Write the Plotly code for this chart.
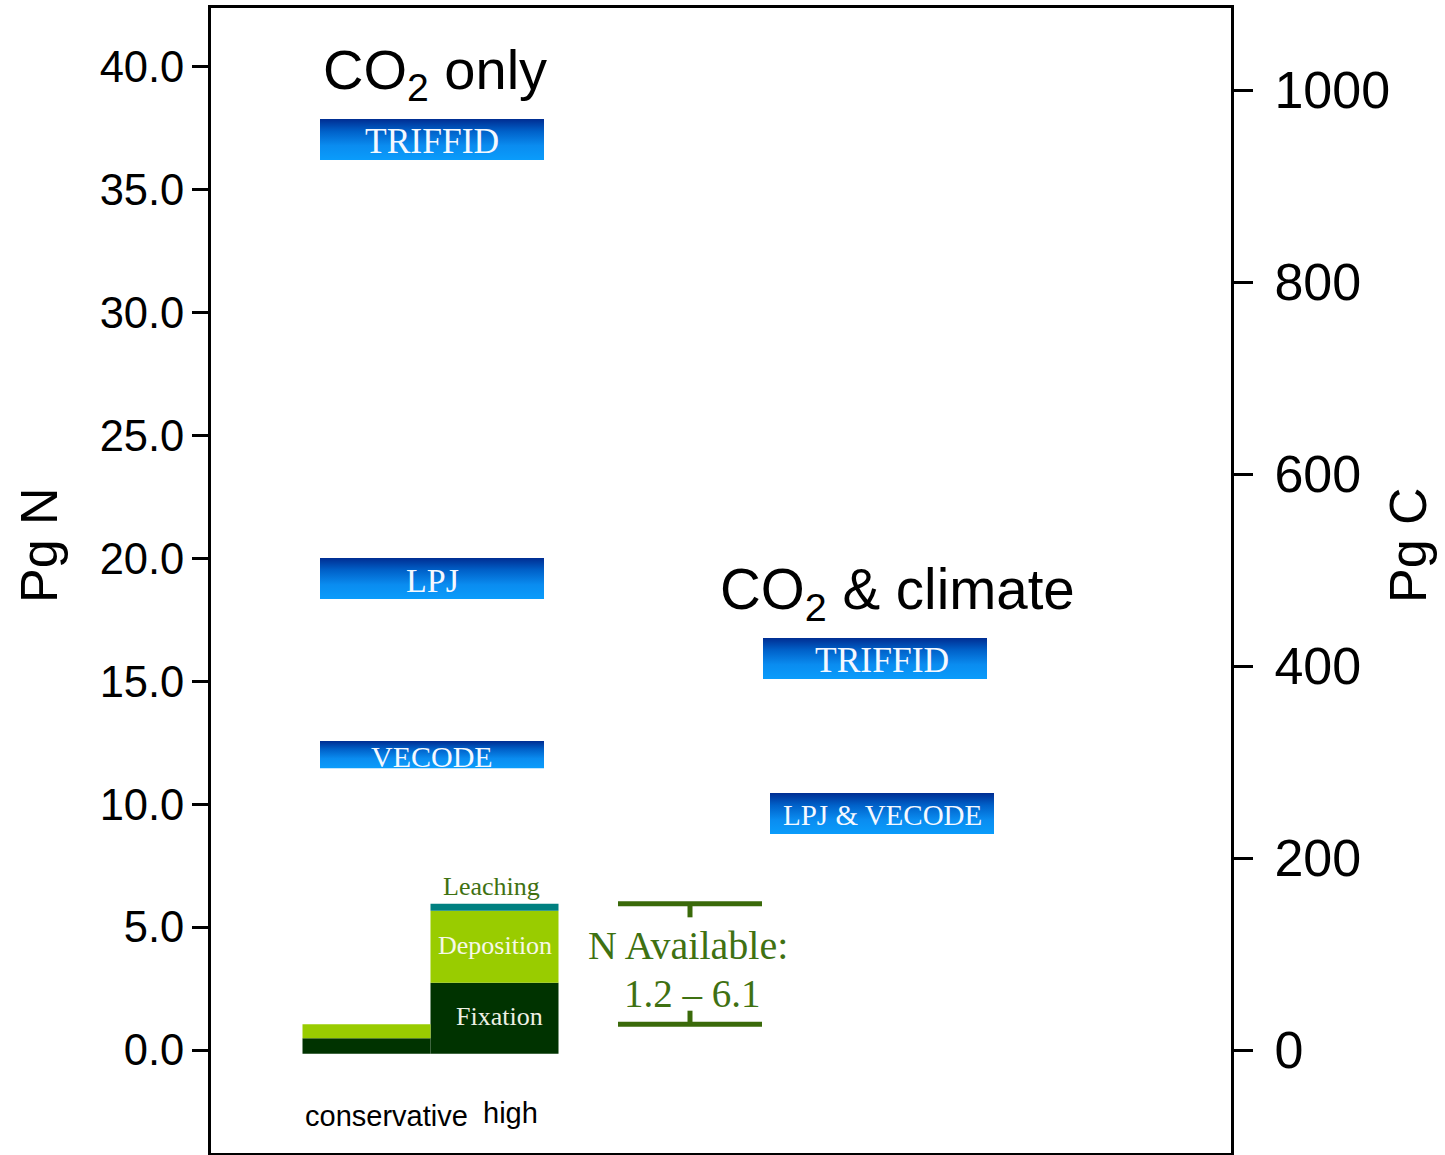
import plotly.graph_objects as go

# ---- data -------------------------------------------------------------
N_TICKS = [0, 5, 10, 15, 20, 25, 30, 35, 40]
C_TICKS = [0, 200, 400, 600, 800, 1000]
C_PER_N = 25.6  # Pg C supported per Pg N (right axis conversion)

# Nitrogen requirement ranges (Pg N), CO2-only runs
co2_models = ["TRIFFID", "LPJ", "VECODE"]
co2_low = [36.22, 18.35, 11.47]
co2_high = [37.88, 20.02, 12.57]

# Nitrogen requirement ranges (Pg N), CO2 & climate runs
clim_models = ["TRIFFID", "LPJ & VECODE"]
clim_low = [15.10, 8.79]
clim_high = [16.77, 10.46]

# Nitrogen supply scenarios (Pg N)
scenarios = ["conservative", "high"]
fixation = [0.63, 2.89]
deposition = [0.57, 2.93]
leaching = [0.0, 0.28]
n_available = [1.2, 6.1]
supply_base = -0.15

# ---- layout constants -------------------------------------------------
Y_RANGE = [-4.19, 42.40]
X_RANGE = [0, 1020]
SANS = "Liberation Sans, Arial, sans-serif"
SERIF = "Liberation Serif, Times New Roman, serif"
BLUE_SCALE = [[0, "#0a9cfb"], [0.35, "#0a8cf0"], [0.7, "#0061c9"], [1, "#002d92"]]
GREEN_TXT = "#3f7112"

fig = go.Figure()
annotations = []


def add_box(x0, x1, lo, hi, label, size, dx=0):
    fig.add_trace(go.Scatter(
        x=[x0, x1, x1, x0, x0], y=[lo, lo, hi, hi, lo],
        mode="lines", fill="toself", line=dict(width=0),
        fillgradient=dict(type="vertical", colorscale=BLUE_SCALE, start=lo, stop=hi),
        hoverinfo="skip", showlegend=False,
    ))
    annotations.append(dict(
        x=(x0 + x1) / 2 + dx, y=(lo + hi) / 2 - 0.08, xref="x", yref="y", text=label,
        showarrow=False, xanchor="center", yanchor="middle",
        font=dict(family=SERIF, size=size, color="#f4f8ff"),
    ))


co2_sizes = [35.5, 34, 30]
for name, lo, hi, sz in zip(co2_models, co2_low, co2_high, co2_sizes):
    add_box(109, 333, lo, hi, name, sz)

clim_x = [(552, 776), (559, 783)]
clim_sizes = [35.5, 29]
clim_dx = [7, 0]
for name, lo, hi, (x0, x1), sz, dx in zip(clim_models, clim_low, clim_high, clim_x,
                                          clim_sizes, clim_dx):
    add_box(x0, x1, lo, hi, name, sz, dx)

# stacked supply bars
bar_x = [155.5, 283.5]
bar_w = 128
fix_base = [supply_base] * 2
dep_base = [b + f for b, f in zip(fix_base, fixation)]
lea_base = [b + d for b, d in zip(dep_base, deposition)]
for vals, base, color in [(fixation, fix_base, "#003300"),
                          (deposition, dep_base, "#99cc00"),
                          (leaching, lea_base, "#008080")]:
    fig.add_trace(go.Bar(
        x=bar_x, y=vals, base=base, width=bar_w,
        marker=dict(color=color, line=dict(width=0)),
        hoverinfo="skip", showlegend=False,
    ))

# N-available bracket
lo_av = supply_base + n_available[0]
hi_av = supply_base + n_available[1]
bx0, bx1, bxm = 407, 551, 479
stem = 0.55
fig.add_trace(go.Scatter(
    x=[bx0, bx1, None, bxm, bxm, None, bx0, bx1, None, bxm, bxm],
    y=[hi_av, hi_av, None, hi_av, hi_av - stem, None, lo_av, lo_av, None, lo_av, lo_av + stem],
    mode="lines", line=dict(color="#3a6a0a", width=5),
    hoverinfo="skip", showlegend=False,
))

# right-axis carrier (Pg C) on the secondary axis
fig.add_trace(go.Scatter(x=[None], y=[None], yaxis="y2", showlegend=False, hoverinfo="skip"))

# ---- text -------------------------------------------------------------
top_hi = lea_base[1] + leaching[1]
annotations += [
    dict(x=224, y=39.72, text="CO<sub>2</sub> only",
         font=dict(family=SANS, size=56, color="black")),
    dict(x=686, y=18.58, text="CO<sub>2</sub> &amp; climate",
         font=dict(family=SANS, size=56.5, color="black")),
    dict(x=bar_x[1] - 3, y=top_hi + 0.7, text="Leaching",
         font=dict(family=SERIF, size=26, color=GREEN_TXT)),
    dict(x=bar_x[1], y=dep_base[1] + deposition[1] / 2 + 0.05, text="Deposition",
         font=dict(family=SERIF, size=26, color="#f6f8e8")),
    dict(x=bar_x[1] + 5, y=1.38, text="Fixation",
         font=dict(family=SERIF, size=26, color="#eef0e4")),
    dict(x=476.5, y=4.27, text="N Available:",
         font=dict(family=SERIF, size=40, color=GREEN_TXT)),
    dict(x=481.5, y=2.32, text=f"{n_available[0]} \u2013 {n_available[1]}",
         font=dict(family=SERIF, size=39, color=GREEN_TXT)),
    dict(x=175.5, y=-2.69, text=scenarios[0],
         font=dict(family=SANS, size=29, color="black")),
    dict(x=299, y=-2.56, text=scenarios[1],
         font=dict(family=SANS, size=29, color="black")),
]
for a in annotations:
    a.setdefault("xref", "x")
    a.setdefault("yref", "y")
    a.setdefault("showarrow", False)
    a.setdefault("xanchor", "center")
    a.setdefault("yanchor", "middle")

annotations += [
    dict(x=-0.1686, y=0.531, xref="paper", yref="paper", text="Pg N", textangle=-90,
         showarrow=False, xanchor="center", yanchor="middle",
         font=dict(family=SANS, size=52, color="black")),
    dict(x=1.1735, y=0.531, xref="paper", yref="paper", text="Pg C", textangle=-90,
         showarrow=False, xanchor="center", yanchor="middle",
         font=dict(family=SANS, size=52, color="black")),
]

fig.update_layout(
    width=1445, height=1155,
    margin=dict(l=211, r=214, t=8, b=2, pad=0),
    paper_bgcolor="white", plot_bgcolor="white",
    barmode="overlay", showlegend=False,
    annotations=annotations,
    xaxis=dict(range=X_RANGE, showgrid=False, zeroline=False, showticklabels=False,
               ticks="", showline=True, mirror=True, linecolor="black", linewidth=3,
               fixedrange=True),
    yaxis=dict(range=Y_RANGE, tickvals=N_TICKS, tickformat=".1f", ticks="outside",
               ticklen=16, tickwidth=3, tickcolor="black", showgrid=False, zeroline=False,
               showline=True, linecolor="black", linewidth=3, ticklabelstandoff=-1,
               tickfont=dict(family=SANS, size=43.5, color="black")),
    yaxis2=dict(range=[v * C_PER_N for v in Y_RANGE], tickvals=C_TICKS, overlaying="y",
                side="right", ticks="outside", ticklen=19, tickwidth=3, tickcolor="black",
                showgrid=False, zeroline=False, showline=True, linecolor="black",
                linewidth=3, ticklabelstandoff=11,
                tickfont=dict(family=SANS, size=52, color="black")),
)

fig.write_html("out.html")
